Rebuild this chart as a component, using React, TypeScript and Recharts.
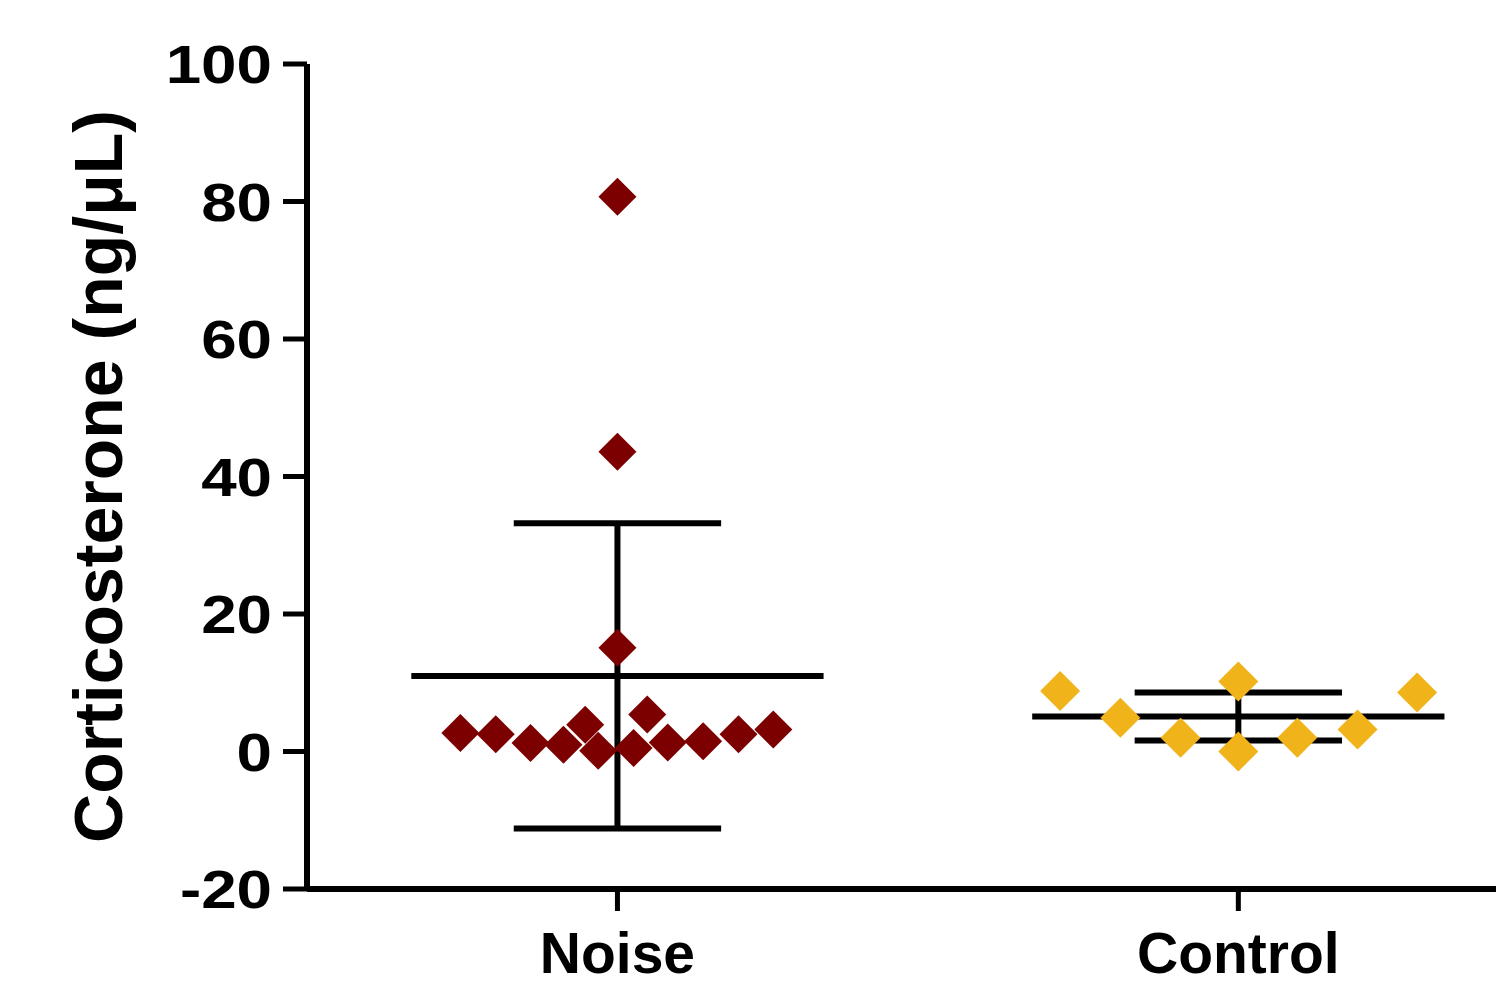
import {
  ReferenceLine,
  Scatter,
  ScatterChart,
  XAxis,
  YAxis,
} from "recharts";

const groups = ["Noise", "Control"];
const groupPositions = [1, 2];

// individual samples, x carries the horizontal scatter around the group position
const noisePoints = [
  { x: 1.0, y: 80.7 },
  { x: 1.0, y: 43.6 },
  { x: 1.0, y: 15.1 },
  { x: 1.048, y: 5.4 },
  { x: 0.747, y: 2.7 },
  { x: 0.804, y: 2.5 },
  { x: 0.86, y: 1.25 },
  { x: 0.913, y: 1.0 },
  { x: 0.948, y: 3.9 },
  { x: 0.969, y: 0.1 },
  { x: 1.026, y: 0.5 },
  { x: 1.081, y: 1.3 },
  { x: 1.138, y: 1.5 },
  { x: 1.195, y: 2.5 },
  { x: 1.251, y: 3.2 },
];

const controlPoints = [
  { x: 1.713, y: 8.8 },
  { x: 1.81, y: 4.9 },
  { x: 1.907, y: 2.0 },
  { x: 2.0, y: 10.2 },
  { x: 2.0, y: 0.0 },
  { x: 2.095, y: 2.0 },
  { x: 2.192, y: 3.2 },
  { x: 2.288, y: 8.6 },
];

const groupMeans = [11.0, 5.1];
const groupSds = [22.2, 3.5];

const yTicks = [-20, 0, 20, 40, 60, 80, 100];

const FONT = "Arial, 'Liberation Sans', Helvetica, sans-serif";
const MEAN_HALF = 0.332;
const CAP_HALF = 0.167;

function Diamond(props: any) {
  const { cx, cy, fill, r = 20 } = props;
  if (cx == null || cy == null) return null;
  return (
    <path
      d={`M${cx},${cy - r}L${cx + r},${cy}L${cx},${cy + r}L${cx - r},${cy}Z`}
      fill={fill}
    />
  );
}

function YTick({ x, y, payload }: any) {
  return (
    <text
      transform={`translate(${x},${y}) scale(1.18,1)`}
      dy="0.36em"
      textAnchor="end"
      fontFamily={FONT}
      fontWeight="bold"
      fontSize={54}
      fill="#000"
    >
      {payload.value}
    </text>
  );
}

function XTick({ x, y, payload }: any) {
  const idx = groupPositions.indexOf(payload.value);
  return (
    <text
      x={x}
      y={y}
      dy="0.716em"
      textAnchor="middle"
      fontFamily={FONT}
      fontWeight="bold"
      fontSize={57}
      fill="#000"
    >
      {groups[idx]}
    </text>
  );
}

function YTitle({ viewBox }: any) {
  const cx = viewBox.x + 122;
  const cy = viewBox.y + viewBox.height / 2;
  return (
    <text
      transform={`translate(${cx},${cy}) rotate(-90)`}
      textAnchor="middle"
      fontFamily={FONT}
      fontWeight="bold"
      fontSize={68}
      fill="#000"
    >
      Corticosterone (ng/μL)
    </text>
  );
}

export default function App() {
  const errorSegments = groupPositions.flatMap((pos, i) => {
    const m = groupMeans[i];
    const hi = m + groupSds[i];
    const lo = m - groupSds[i];
    return [
      [{ x: pos - MEAN_HALF, y: m }, { x: pos + MEAN_HALF, y: m }],
      [{ x: pos - CAP_HALF, y: hi }, { x: pos + CAP_HALF, y: hi }],
      [{ x: pos - CAP_HALF, y: lo }, { x: pos + CAP_HALF, y: lo }],
      [{ x: pos, y: lo }, { x: pos, y: hi }],
    ];
  });

  return (
    <div style={{ position: "absolute", left: 0, top: 0, background: "#fff" }}>
      <ScatterChart
        width={1496}
        height={985}
        margin={{ top: 64, right: 0, bottom: 0, left: 0 }}
      >
        <XAxis
          type="number"
          dataKey="x"
          domain={[0.5, 2.415]}
          ticks={groupPositions}
          allowDataOverflow
          height={96}
          axisLine={{ stroke: "#000", strokeWidth: 6 }}
          tickLine={{ stroke: "#000", strokeWidth: 5 }}
          tickSize={22}
          tickMargin={21}
          tick={<XTick />}
        />
        <YAxis
          type="number"
          dataKey="y"
          domain={[-20, 100]}
          ticks={yTicks}
          allowDataOverflow
          width={307}
          axisLine={{ stroke: "#000", strokeWidth: 6 }}
          tickLine={{ stroke: "#000", strokeWidth: 5 }}
          tickSize={24}
          tickMargin={11}
          tick={<YTick />}
          label={{ content: <YTitle /> }}
        />
        <Scatter
          name="Noise"
          data={noisePoints}
          fill="#7d0000"
          shape={(p: any) => <Diamond {...p} r={19} />}
          isAnimationActive={false}
        />
        <Scatter
          name="Control"
          data={controlPoints}
          fill="#f0b31a"
          shape={(p: any) => <Diamond {...p} r={20} />}
          isAnimationActive={false}
        />
        {errorSegments.map((seg, i) => (
          <ReferenceLine
            key={i}
            segment={seg}
            stroke="#000"
            strokeWidth={6}
            ifOverflow="visible"
          />
        ))}
      </ScatterChart>
    </div>
  );
}
